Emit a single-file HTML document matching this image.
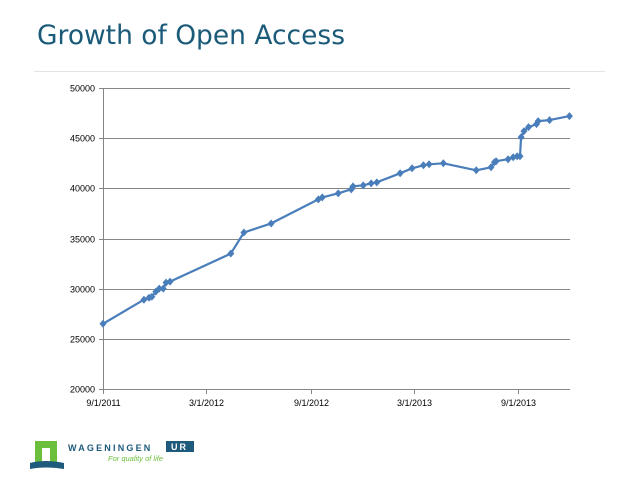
<!DOCTYPE html>
<html><head><meta charset="utf-8"><style>
html,body{margin:0;padding:0;background:#fff;}
svg{display:block;font-family:"Liberation Sans",Calibri,sans-serif;}
</style></head><body>
<svg id="chart" width="638" height="479" viewBox="0 0 638 479">
<text x="37" y="44" font-family="DejaVu Sans, sans-serif" font-size="27" fill="#1b5a78" textLength="308" lengthAdjust="spacingAndGlyphs">Growth of Open Access</text>
<line x1="34" y1="71.5" x2="605" y2="71.5" stroke="#e4e4e4" stroke-width="1"/>
<g id="grid"></g>
<g id="axes"></g>
<g id="series"></g>
<g>
<rect x="35" y="441" width="22" height="24" fill="#6cbf3c"/>
<rect x="42" y="448" width="8" height="17" fill="#fff"/>
<path d="M30 463 Q45 459 64 463 L64 469 Q45 466 30 469 Z" fill="#1d5a7c"/>
<text x="68" y="451" font-size="9" font-weight="bold" fill="#1d5a7c" letter-spacing="2.2">WAGENINGEN</text>
<rect x="166" y="441" width="28" height="11" fill="#1d5a7c"/>
<text x="171" y="450" font-size="9" font-weight="bold" fill="#fff" letter-spacing="2">UR</text>
<text x="108" y="461" font-size="7.5" font-style="italic" fill="#6cbf3c">For quality of life</text>
</g>
</svg>
<script>
const dayOffsets=[0,72,81,86,93,99,106,111,118,225,248,296,379,386,414,437,440,458,472,482,523,544,564,574,599,657,683,689,692,713,722,729,734,736,741,749,763,766,786,821];
const values=[26500,28900,29100,29200,29700,30000,30000,30600,30700,33500,35600,36500,38900,39100,39500,39900,40200,40300,40500,40600,41500,42000,42300,42400,42500,41800,42100,42600,42700,42900,43100,43200,43200,45100,45700,46100,46400,46700,46800,47200];
const yTicks=[20000,25000,30000,35000,40000,45000,50000];
const xTickDays=[0,182,366,547,731];
const xTickLabels=["9/1/2011","3/1/2012","9/1/2012","3/1/2013","9/1/2013"];
const xMaxDay=822;

const L=103,R=570,T=88,B=389;
const NS="http://www.w3.org/2000/svg";
function xs(d){return L+(R-L)*d/xMaxDay;}
function ys(v){return B-(B-T)*(v-20000)/30000;}
function mk(tag,attrs,parent){const e=document.createElementNS(NS,tag);for(const k in attrs)e.setAttribute(k,attrs[k]);parent.appendChild(e);return e;}
const grid=document.getElementById('grid'),axes=document.getElementById('axes'),series=document.getElementById('series');
yTicks.forEach(v=>{
 const y=Math.round(ys(v))+0.5;
 if(v>20000){const g=mk('line',{x1:L,x2:R,y1:y,y2:y,stroke:'#868686','stroke-width':1},grid);
 
 }
 const t=mk('line',{x1:L-4,x2:L,y1:y,y2:y,stroke:'#868686'},axes);
 
 
 const tx=mk('text',{x:L-8,y:y+3,'text-anchor':'end','font-size':'9',fill:'#000'},axes);
 tx.textContent=v;
 
 
});
const ya=mk('line',{x1:L+0.5,x2:L+0.5,y1:T,y2:B,stroke:'#868686'},axes);


const xa=mk('line',{x1:L,x2:R,y1:B+0.5,y2:B+0.5,stroke:'#868686'},axes);


xTickDays.forEach((d,i)=>{
 const x=Math.round(xs(d))+0.5;
 const t=mk('line',{x1:x,x2:x,y1:B,y2:B+5,stroke:'#868686'},axes);
 
 
 const tx=mk('text',{x:x,y:B+17,'text-anchor':'middle','font-size':'9',fill:'#000'},axes);
 tx.textContent=xTickLabels[i];
 
 
});
const pts=dayOffsets.map((d,i)=>xs(d).toFixed(1)+','+ys(values[i]).toFixed(1)).join(' ');
const pl=mk('polyline',{points:pts,fill:'none',stroke:'#4a7ebb','stroke-width':2.2,'stroke-linejoin':'round'},series);


dayOffsets.forEach((d,i)=>{
 const x=xs(d),y=ys(values[i]);
 const m=mk('polygon',{points:`${x},${y-4} ${x+3.5},${y} ${x},${y+4} ${x-3.5},${y}`,fill:'#4a7ebb'},series);
 
 
});
</script>
</body></html>
